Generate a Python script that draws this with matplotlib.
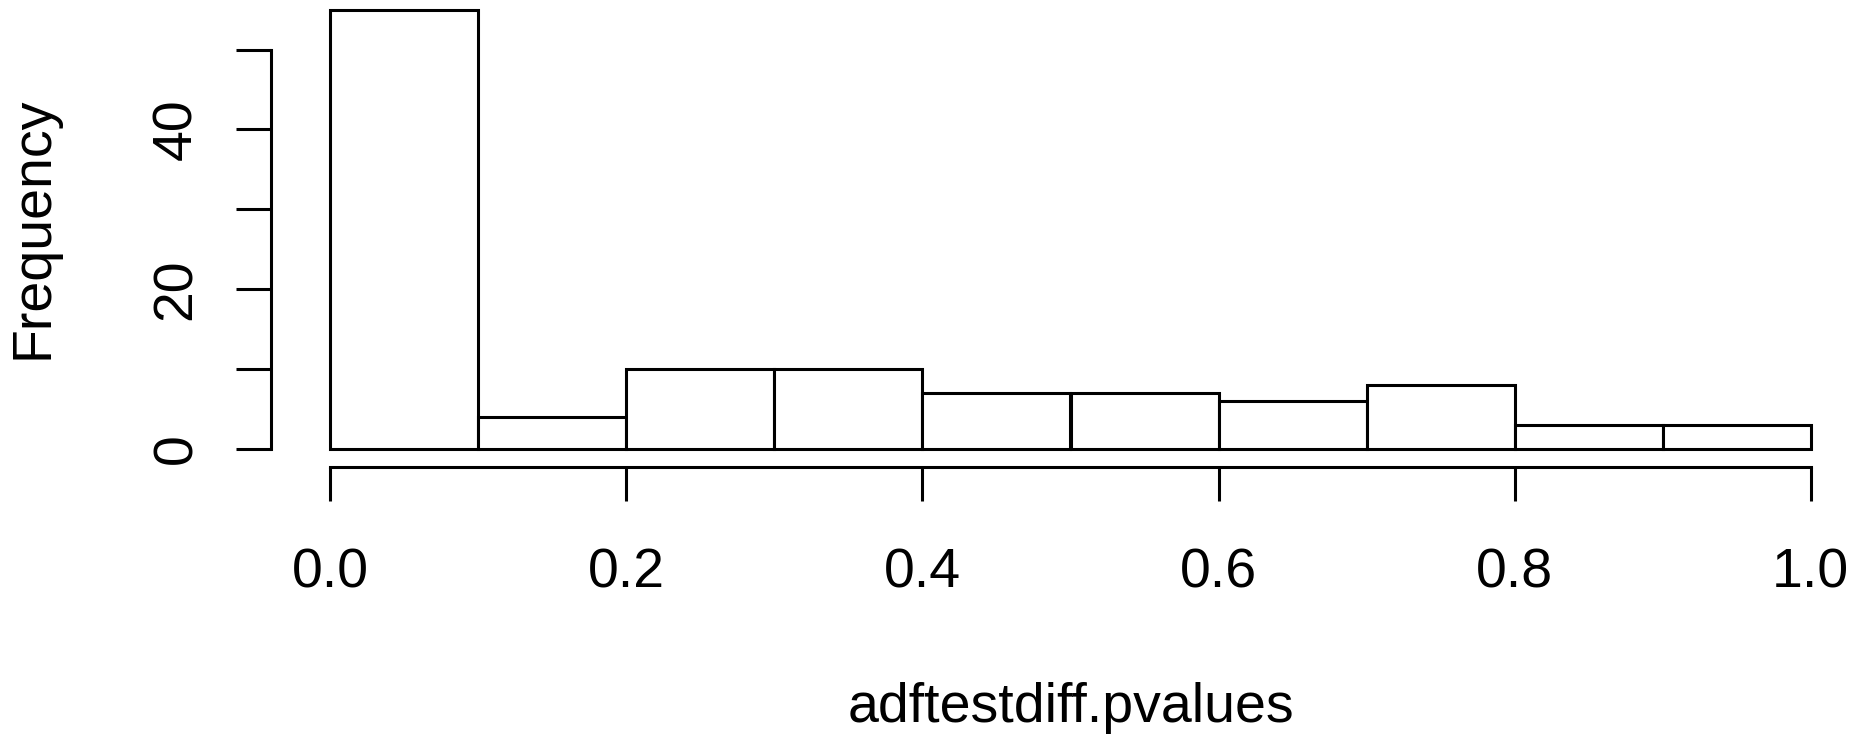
import matplotlib
matplotlib.use("Agg")
import matplotlib.pyplot as plt
import numpy as np

# Histogram of ADF test p-values on differenced series
bin_edges = [0.0, 0.1, 0.2, 0.3, 0.4, 0.5, 0.6, 0.7, 0.8, 0.9, 1.0]
counts = [55, 4, 10, 10, 7, 7, 6, 8, 3, 3]
x_ticks = [0.0, 0.2, 0.4, 0.6, 0.8, 1.0]
x_tick_labels = ["0.0", "0.2", "0.4", "0.6", "0.8", "1.0"]
y_ticks = [0, 10, 20, 30, 40, 50]
y_tick_labels = ["0", "", "20", "", "40", ""]
x_label = "adftestdiff.pvalues"
y_label = "Frequency"

plt.rcParams["font.family"] = ["Liberation Sans", "DejaVu Sans"]
FS = 40
LW = 2.2

W, H = 1873, 734
fig = plt.figure(figsize=(W / 100, H / 100), dpi=100)

# plot region in pixels (R-style, 4% padding around the data range)
left_px, right_px = 271, 1870
bottom_px, top_px = 466.6, -8
ax = fig.add_axes([left_px / W, (H - bottom_px) / H,
                   (right_px - left_px) / W, (bottom_px - top_px) / H])

edges = np.array(bin_edges)
ax.bar(edges[:-1], counts, width=np.diff(edges), align="edge",
       facecolor="white", edgecolor="black", linewidth=LW, zorder=2)

xr = edges[-1] - edges[0]
ax.set_xlim(edges[0] - 0.04 * xr, edges[-1] + 0.04 * xr)
ymax = max(counts)
ax.set_ylim(-0.04 * ymax, 1.04 * ymax)

for side in ("top", "right"):
    ax.spines[side].set_visible(False)
ax.spines["left"].set_bounds(y_ticks[0], y_ticks[-1])
ax.spines["bottom"].set_bounds(x_ticks[0], x_ticks[-1])
ax.spines["left"].set_linewidth(LW)
ax.spines["bottom"].set_linewidth(LW)

ax.set_xticks(x_ticks)
ax.set_xticklabels(x_tick_labels)
ax.set_yticks(y_ticks)
ax.set_yticklabels(y_tick_labels, rotation=90, va="center")
ax.tick_params(axis="x", length=24.5, width=LW, pad=34, labelsize=FS)
ax.tick_params(axis="y", length=25, width=LW, pad=24, labelsize=FS)

fig.text(1070.5 / W, (H - 722) / H, x_label, fontsize=FS,
         ha="center", va="baseline")
fig.text(48 / W, (H - 227.5) / H, y_label, fontsize=FS, rotation=90,
         rotation_mode="anchor", ha="center", va="baseline")

fig.savefig("out.png", dpi=100)
